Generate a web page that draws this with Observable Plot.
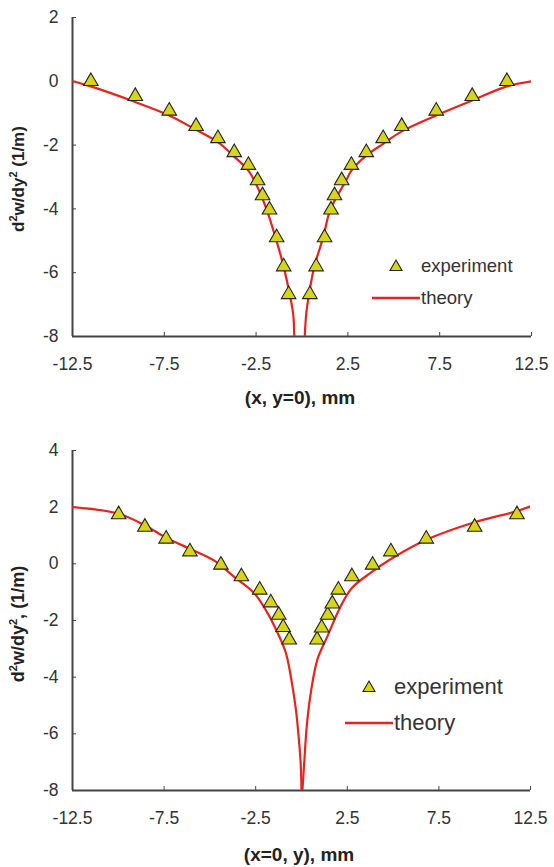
<!DOCTYPE html>
<html>
<head>
<meta charset="utf-8">
<script src="https://cdn.jsdelivr.net/npm/d3@7"></script>
<script src="https://cdn.jsdelivr.net/npm/@observablehq/plot@0.6"></script>
<style>
  html, body { margin: 0; padding: 0; background: #fff; }
  body { width: 554px; height: 867px; position: relative; overflow: hidden; font-family: "Liberation Sans", Arial, sans-serif; }
  .panel { position: absolute; left: 0; }
  .ytitle { position: absolute; font-weight: bold; color: #222; transform: translate(-50%, -50%) rotate(-90deg); white-space: nowrap; }
  .xtitle { position: absolute; font-weight: bold; font-size: 19px; color: #222; transform: translate(-50%, -50%); white-space: nowrap; }
  .legend { position: absolute; color: #333; white-space: nowrap; }
  .legend .row { display: flex; align-items: center; }
</style>
</head>
<body>
<script>
// ---------- data: top panel (x, y=0) ----------
const xTicks = [-12.5, -7.5, -2.5, 2.5, 7.5, 12.5];
const yTicksTop = [-8, -6, -4, -2, 0, 2];
const yTicksBottom = [-8, -6, -4, -2, 0, 2, 4];

const topExpX = [-11.5, -9.08, -7.23, -5.77, -4.58, -3.69, -2.92, -2.42, -2.15, -1.77, -1.38, -1.0, -0.73,
                 0.43, 0.77, 1.23, 1.58, 1.77, 2.16, 2.69, 3.5, 4.42, 5.43, 7.31, 9.27, 11.16];
const topExpY = [0.0, -0.47, -0.93, -1.41, -1.79, -2.23, -2.63, -3.11, -3.58, -4.03, -4.9, -5.81, -6.68,
                 -6.68, -5.81, -4.9, -4.03, -3.58, -3.11, -2.63, -2.23, -1.79, -1.41, -0.93, -0.47, 0.0];

const topTheoryLeftX = [-12.5, -11.5, -9.08, -7.23, -5.77, -4.58, -3.69, -2.92, -2.42, -1.92, -1.44, -1.0, -0.67, -0.48, -0.42];
const topTheoryLeftY = [0.0, -0.16, -0.65, -1.07, -1.52, -1.91, -2.36, -2.8, -3.32, -4.03, -4.9, -5.81, -6.68, -7.3, -8.0];
const topTheoryRightX = [0.15, 0.23, 0.38, 0.67, 1.15, 1.54, 2.4, 2.69, 3.5, 4.42, 5.43, 7.31, 9.27, 11.16, 12.5];
const topTheoryRightY = [-8.0, -7.3, -6.68, -5.81, -4.9, -4.03, -3.11, -2.8, -2.33, -1.96, -1.57, -1.07, -0.6, -0.16, 0.0];

// ---------- data: bottom panel (x=0, y) ----------
const botExpX = [-9.98, -8.55, -7.39, -6.09, -4.4, -3.28, -2.28, -1.68, -1.24, -1.0, -0.67,
                 0.85, 1.1, 1.43, 1.68, 2.01, 2.75, 3.88, 4.88, 6.81, 9.45, 11.76];
const botExpY = [1.74, 1.30, 0.88, 0.43, -0.04, -0.45, -0.92, -1.37, -1.81, -2.24, -2.68,
                 -2.68, -2.26, -1.81, -1.41, -0.92, -0.45, -0.04, 0.43, 0.88, 1.30, 1.74];

const botTheoryLeftX = [-12.5, -9.98, -8.55, -7.39, -6.09, -4.78, -3.69, -2.59, -1.86, -1.31, -0.86, -0.59, -0.31, -0.13, -0.04, 0.0];
const botTheoryLeftY = [2.0, 1.77, 1.36, 0.92, 0.53, 0.12, -0.45, -1.03, -1.73, -2.43, -3.13, -3.95, -5.12, -6.29, -7.1, -8.0];
const botTheoryRightX = [0.05, 0.14, 0.29, 0.51, 0.87, 1.42, 2.14, 2.75, 3.88, 4.88, 6.81, 9.45, 11.76, 12.5];
const botTheoryRightY = [-8.0, -7.11, -5.71, -4.54, -3.37, -2.55, -1.5, -0.85, -0.27, 0.17, 0.85, 1.47, 1.86, 2.03];

const seriesLabels = ["experiment", "theory"];

// ---------- build tables ----------
const zip = (xs, ys, extra = {}) => xs.map((x, i) => ({x, y: ys[i], ...extra}));
const topExp = zip(topExpX, topExpY);
const topTheory = [...zip(topTheoryLeftX, topTheoryLeftY, {b: "L"}), ...zip(topTheoryRightX, topTheoryRightY, {b: "R"})];
const botExp = zip(botExpX, botExpY);
const botTheory = [...zip(botTheoryLeftX, botTheoryLeftY, {b: "L"}), ...zip(botTheoryRightX, botTheoryRightY, {b: "R"})];

const RED = "#e8231e";
const TRI_FILL = "#d6d615";
const AXIS = "#444";

function panel({exp, theory, yDomain, yTicks, height, marginTop, marginBottom, marginLeft, marginRight}) {
  return Plot.plot({
    width: 554,
    height,
    marginTop, marginBottom, marginLeft, marginRight,
    style: {fontFamily: "'Liberation Sans', Arial, sans-serif", fontSize: "17px", color: "#333", background: "transparent", overflow: "visible"},
    x: {domain: [-12.5, 12.5]},
    y: {domain: yDomain},
    marks: [
      Plot.ruleX([-12.5], {stroke: AXIS, strokeWidth: 2}),
      Plot.ruleY([yDomain[0]], {stroke: AXIS, strokeWidth: 2}),
      Plot.axisX({ticks: xTicks, tickSize: -4, tickPadding: 25, fontSize: 17.5, tickFormat: d => String(d), stroke: AXIS, fill: "#333", label: null}),
      Plot.axisY({ticks: yTicks, tickSize: -4, tickPadding: 18, fontSize: 17.5, tickFormat: d => String(d), stroke: AXIS, fill: "#333", label: null}),
      Plot.line(theory, {x: "x", y: "y", z: "b", stroke: RED, strokeWidth: 2.2, clip: true, curve: "catmull-rom"}),
      Plot.dot(exp, {x: "x", y: "y", symbol: "triangle", r: 5.4, fill: TRI_FILL, stroke: "#222", strokeWidth: 1.1})
    ]
  });
}

function place(node, top) {
  const d = document.createElement("div");
  d.className = "panel";
  d.style.top = top + "px";
  d.appendChild(node);
  document.body.appendChild(d);
}

place(panel({exp: topExp, theory: topTheory, yDomain: [-8, 2], yTicks: yTicksTop,
  height: 420, marginTop: 17, marginBottom: 84, marginLeft: 72, marginRight: 23}), 0);
place(panel({exp: botExp, theory: botTheory, yDomain: [-8, 4], yTicks: yTicksBottom,
  height: 447, marginTop: 30, marginBottom: 77, marginLeft: 72, marginRight: 24}), 420);

function addText(cls, txt, x, y, fs) {
  const d = document.createElement("div");
  d.className = cls;
  d.innerHTML = txt;
  d.style.left = x + "px";
  d.style.top = y + "px";
  if (fs) d.style.fontSize = fs + "px";
  document.body.appendChild(d);
}
addText("ytitle", "d<sup style='font-size:11px'>2</sup>w/dy<sup style='font-size:11px'>2</sup> (1/m)", 18, 179, 17);
addText("ytitle", "d<sup style='font-size:11px'>2</sup>w/dy<sup style='font-size:11px'>2</sup>, (1/m)", 18, 624, 18);
addText("xtitle", "(x, y=0), mm", 300, 398);
addText("xtitle", "(x=0, y), mm", 299, 855);

function legend(x, y, fs, gap, triSize) {
  const d = document.createElement("div");
  d.className = "legend";
  d.style.left = x + "px";
  d.style.top = y + "px";
  d.style.fontSize = fs + "px";
  const t = triSize;
  d.innerHTML =
    `<div class="row" style="height:${gap}px"><svg width="48" height="${gap}" style="margin-right:1px"><path d="M24,${gap/2 - t*0.6} L${24 + t*0.6},${gap/2 + t*0.45} L${24 - t*0.6},${gap/2 + t*0.45} Z" fill="${TRI_FILL}" stroke="#222" stroke-width="1.1"/></svg><span>${seriesLabels[0]}</span></div>` +
    `<div class="row" style="height:${gap}px"><svg width="48" height="${gap}" style="margin-right:1px"><line x1="0" x2="48" y1="${gap/2}" y2="${gap/2}" stroke="${RED}" stroke-width="2.5"/></svg><span>${seriesLabels[1]}</span></div>`;
  document.body.appendChild(d);
}
legend(372, 250, 18.5, 32, 10);
legend(345, 669, 22, 36, 10);
</script>
</body>
</html>
